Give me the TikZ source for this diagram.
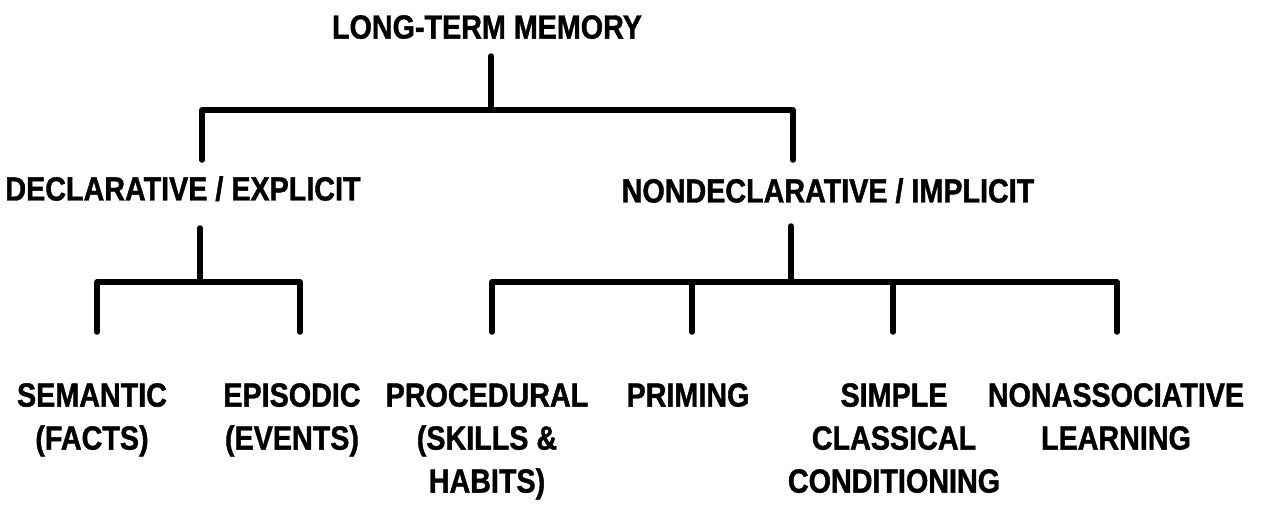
\documentclass[tikz,border=0pt]{standalone}
\usepackage{fontspec}
\newfontfamily\lblfont[FakeStretch=0.857, BoldFeatures={FakeBold=1.2}]{Liberation Sans}
\begin{document}
\begin{tikzpicture}[x=1pt,y=-1pt,
  label/.style={font=\lblfont\bfseries\fontsize{33.5}{43}\selectfont,
    inner sep=0pt, align=center, anchor=north, text=black},
  branch/.style={draw=black, line width=5.5pt, line cap=round, line join=round}]
  \useasboundingbox[fill=white] (0,0) rectangle (1262,504);

  % labels
  \node[label] (ltm)  at (487,15)  {LONG-TERM MEMORY};
  \node[label] (decl) at (183,176) {DECLARATIVE / EXPLICIT};
  \node[label] (nond) at (828,178) {NONDECLARATIVE / IMPLICIT};
  \node[label] (sem)  at (92,383)  {SEMANTIC\\(FACTS)};
  \node[label] (epi)  at (292,383) {EPISODIC\\(EVENTS)};
  \node[label] (proc) at (487,383) {PROCEDURAL\\(SKILLS \&\\HABITS)};
  \node[label] (prim) at (688,383) {PRIMING};
  \node[label] (simp) at (894,383) {SIMPLE\\CLASSICAL\\CONDITIONING};
  \node[label] (nona) at (1116,383) {NONASSOCIATIVE\\LEARNING};

  % joints of the tree
  \coordinate (ltmS)  at (491,56);
  \coordinate (ltmJ)  at (491,110);
  \coordinate (declT) at (202,160);
  \coordinate (nondT) at (793,160);
  \coordinate (declS) at (200,228);
  \coordinate (declJ) at (200,282);
  \coordinate (nondS) at (791,226);
  \coordinate (nondJ) at (791,282);
  \coordinate (semT)  at (97,332);
  \coordinate (epiT)  at (300,332);
  \coordinate (procT) at (492,332);
  \coordinate (primT) at (692,332);
  \coordinate (simpT) at (893,332);
  \coordinate (nonaT) at (1117,332);

  % long-term memory split
  \draw[branch] (ltmS) -- (ltmJ);
  \draw[branch] (declT) |- (ltmJ) -| (nondT);

  % declarative branch
  \draw[branch] (declS) -- (declJ);
  \draw[branch] (semT) |- (declJ) -| (epiT);

  % nondeclarative branch
  \draw[branch] (nondS) -- (nondJ);
  \draw[branch] (procT) |- (nondJ) -| (nonaT);
  \draw[branch] (primT) -- (primT |- nondJ);
  \draw[branch] (simpT) -- (simpT |- nondJ);
\end{tikzpicture}
\end{document}
